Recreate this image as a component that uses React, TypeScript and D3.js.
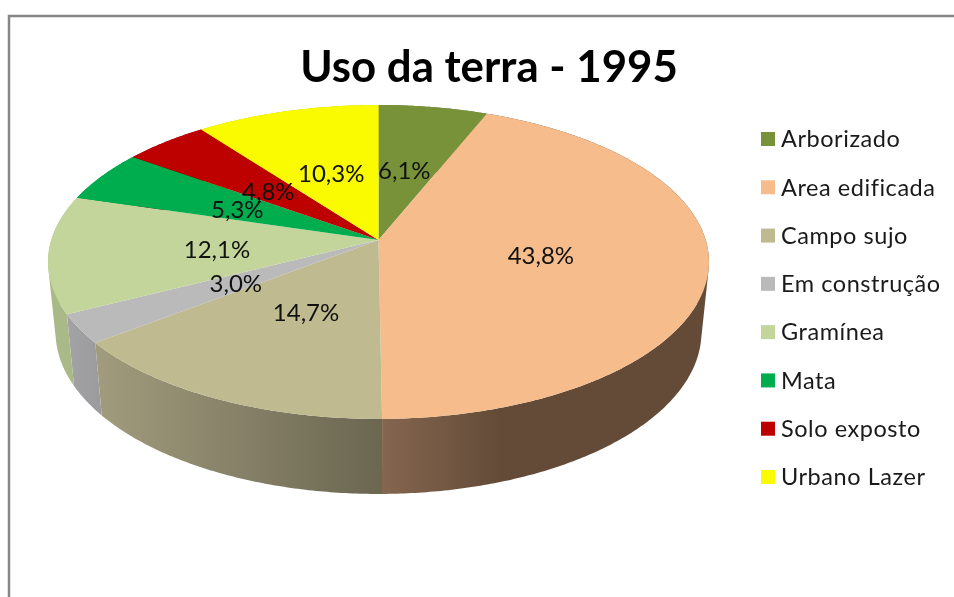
import * as d3 from 'd3'

const categories = ['Arborizado', 'Area edificada', 'Campo sujo', 'Em construção', 'Gramínea', 'Mata', 'Solo exposto', 'Urbano Lazer']
const values = [6.1, 43.8, 14.7, 3.0, 12.1, 5.3, 4.8, 10.3]
const labels = ['6,1%', '43,8%', '14,7%', '3,0%', '12,1%', '5,3%', '4,8%', '10,3%']

const topColors = ['#789239', '#f6bc8c', '#bfba90', '#bababa', '#c3d59b', '#00ad4e', '#bd0000', '#fbfb00']
// side wall shading, light end then dark end of a left to right gradient
const wallLeft = ['#5f7430', '#866750', '#a29c7e', '#a3a3a6', '#a9ba88', '#008a3e', '#960000', '#c8c800']
const wallRight = ['#5f7430', '#634b38', '#6a6650', '#9c9c9f', '#a9ba88', '#008a3e', '#960000', '#c8c800']

// nudges of the percent labels from their default anchor, px
const labelNudge = [[-6, 8], [-17, 0], [12, -9], [16, -4], [19, 2], [15, 6], [12, 8], [6, 8]]

const width = 954
const height = 597

// the pie top is a tilted disc: apex sits above the centre of the outline ellipse
const apex = { x: 378.5, y: 240 }
const tilt = { a: 327.2, b: 153.9, k: 0.14 }
const rim = { cy: 262, rx: 330.5, ry: 157 }
const base = { cy: 332, rx: 323, ry: 162 }

type Pt = [number, number]

function topPoint(angle: number, r = 1): Pt {
  const u = r * Math.sin(angle)
  const v = r * Math.cos(angle)
  const w = 1 + tilt.k * v
  return [apex.x + (tilt.a * u) / w, apex.y - (tilt.b * v) / w]
}

function basePoint(p: Pt): Pt {
  return [
    apex.x + ((p[0] - apex.x) * base.rx) / rim.rx,
    base.cy + ((p[1] - rim.cy) * base.ry) / rim.ry,
  ]
}

function rimSamples(a0: number, a1: number) {
  const n = Math.max(2, Math.ceil((a1 - a0) / 0.01))
  return d3.range(n + 1).map((i) => topPoint(a0 + ((a1 - a0) * i) / n))
}

// wall as quads joining top rim to base rim, all wound the same way so the fill has no holes
function wallPath(top: Pt[], line: d3.Line<Pt>) {
  return d3.pairs(top).map(([p, q]) => {
    const quad: Pt[] = [p, q, basePoint(q), basePoint(p)]
    if (d3.polygonArea(quad) < 0) quad.reverse()
    return line(quad) + 'Z'
  }).join('')
}

export default function App() {
  const arcs = d3.pie<number>().sort(null)(values)
  const line = d3.line<Pt>()

  return (
    <svg
      width={width}
      height={height}
      style={{ position: 'fixed', left: 0, top: 0, background: '#fff', filter: 'blur(0.45px)' }}
      fontFamily="Lato, Carlito, sans-serif"
    >
      <defs>
        {arcs.map((d, i) => {
          const xs = rimSamples(d.startAngle, d.endAngle).map((p) => p[0])
          return (
            <linearGradient
              key={i}
              id={`wall-${i}`}
              gradientUnits="userSpaceOnUse"
              x1={i === 1 ? apex.x : d3.min(xs)!}
              x2={i === 1 ? 500 : d3.max(xs)!}
              y1={0}
              y2={0}
            >
              <stop offset="0%" stopColor={wallLeft[i]} />
              <stop offset="100%" stopColor={wallRight[i]} />
            </linearGradient>
          )
        })}
      </defs>

      <path d="M954,16 H9 V597" fill="none" stroke="#868686" strokeWidth={2.5} />

      <text x={489} y={82} textAnchor="middle" fontSize={43.8} fontWeight={700} fill="#000">
        Uso da terra - 1995
      </text>

      {/* side walls first, the top face hides the back part */}
      {arcs.map((d, i) => (
        <path key={i} d={wallPath(rimSamples(d.startAngle, d.endAngle), line)} fill={`url(#wall-${i})`} />
      ))}

      {arcs.map((d, i) => (
        <path
          key={i}
          d={line([[apex.x, apex.y], ...rimSamples(d.startAngle, d.endAngle)])! + 'Z'}
          fill={topColors[i]}
        />
      ))}

      {arcs.map((d, i) => {
        const [x, y] = topPoint((d.startAngle + d.endAngle) / 2, 0.55)
        return (
          <text
            key={i}
            x={x + labelNudge[i][0]}
            y={y + labelNudge[i][1]}
            dy="0.35em"
            textAnchor="middle"
            fontSize={24}
            fill="#111"
          >
            {labels[i]}
          </text>
        )
      })}

      {categories.map((c, i) => {
        const y = d3.scalePoint<string>().domain(categories).range([139, 477])(c)!
        return (
          <g key={c}>
            <rect x={761} y={y - 7} width={14} height={14} fill={topColors[i]} />
            <text x={781} y={y} dy="0.35em" fontSize={23.5} letterSpacing={0.55} fill="#1a1a1a">
              {c}
            </text>
          </g>
        )
      })}
    </svg>
  )
}
